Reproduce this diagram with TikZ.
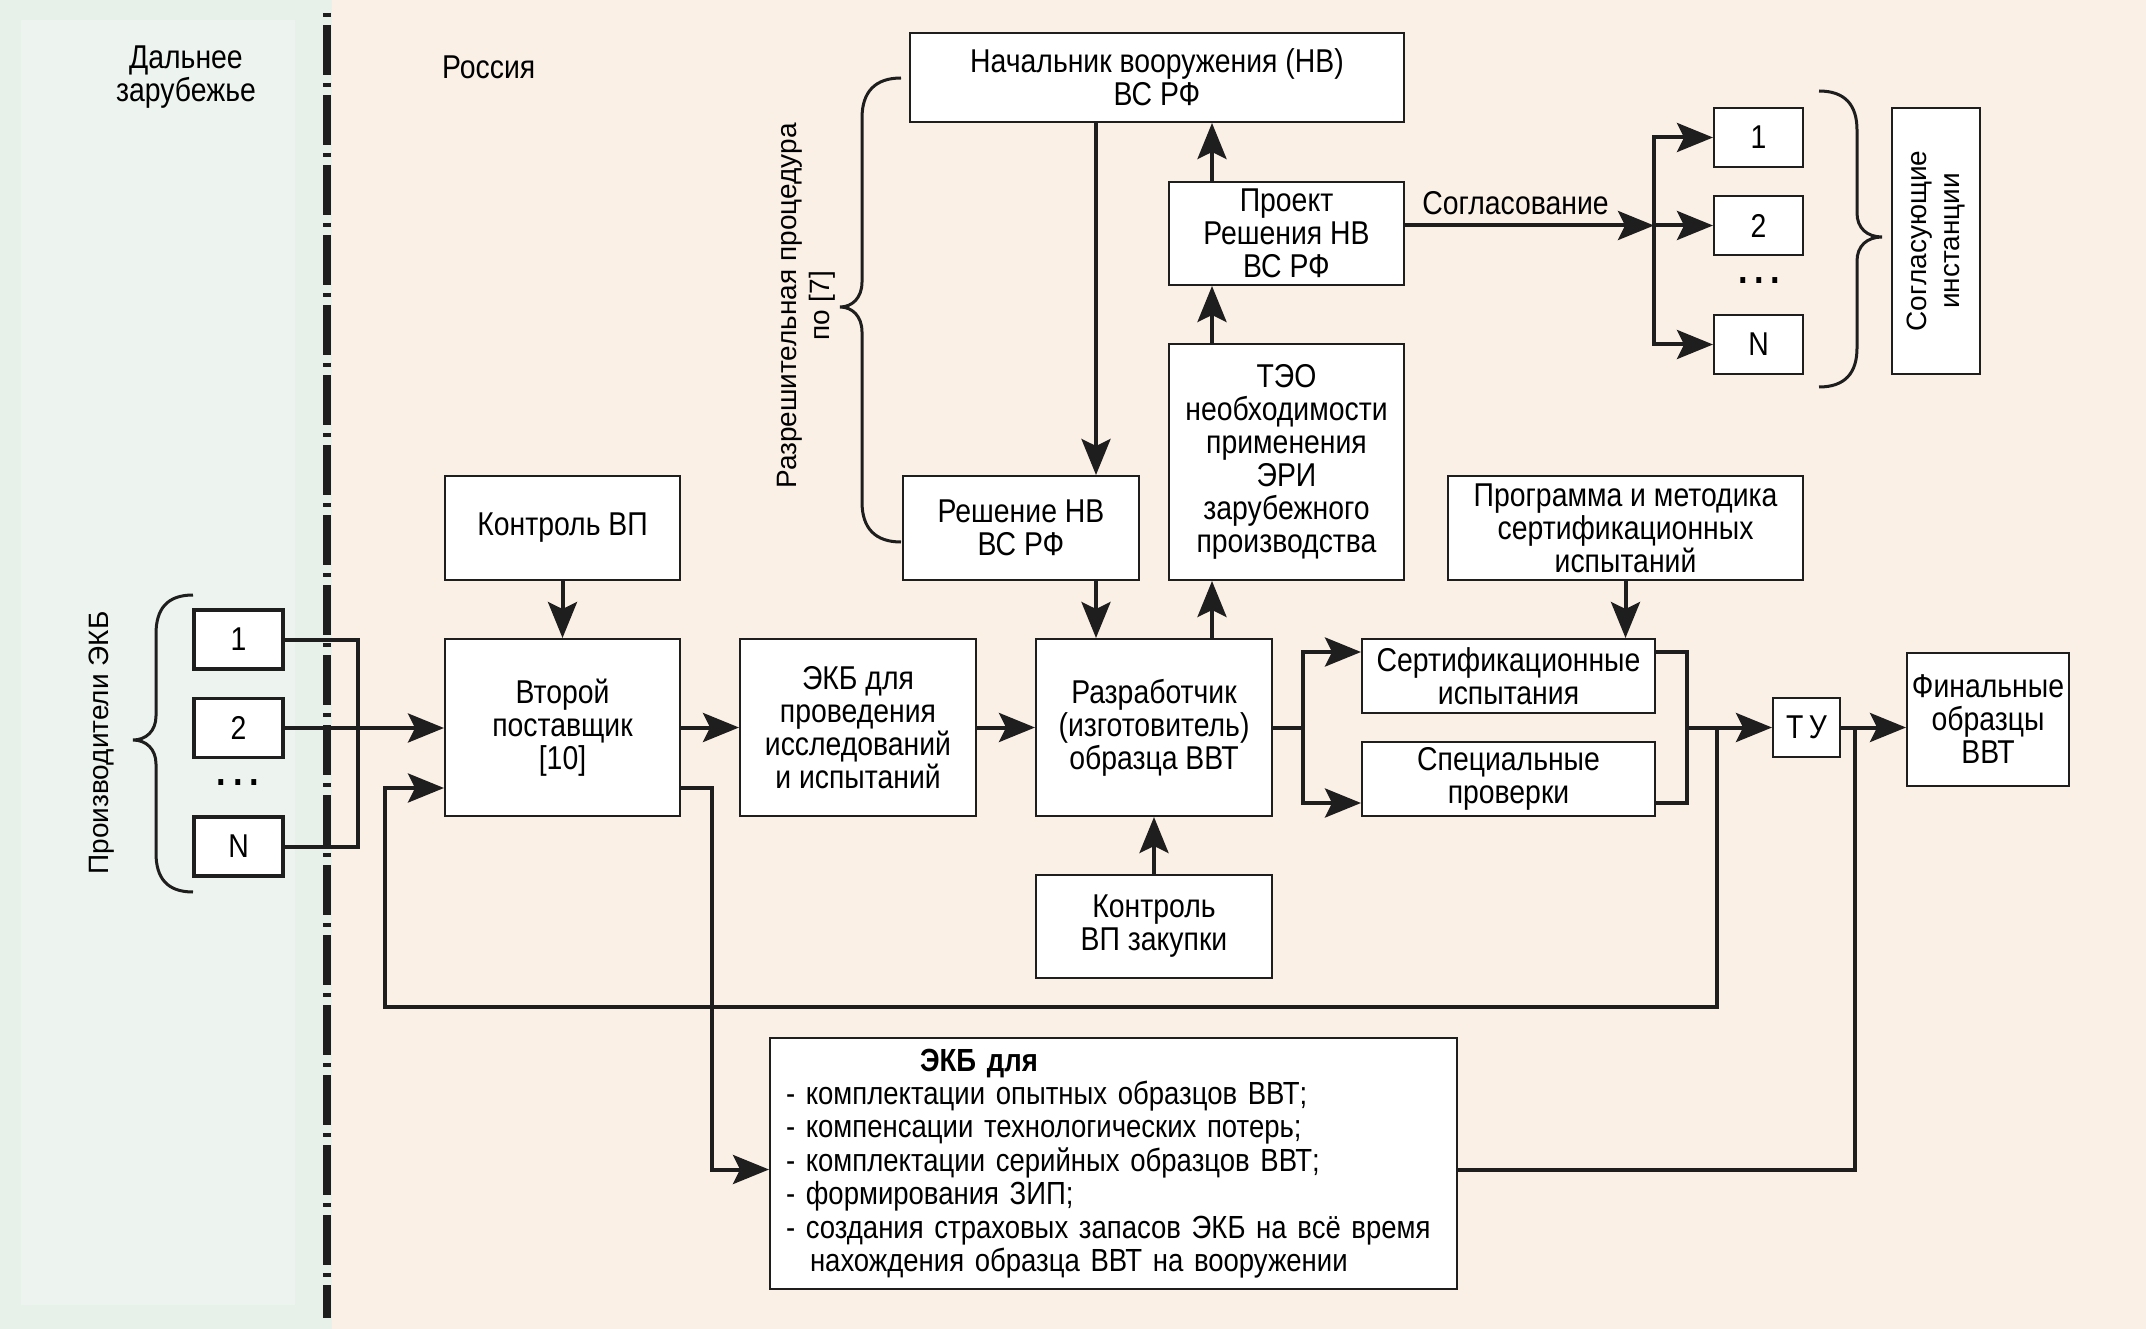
\documentclass[tikz,border=0pt]{standalone}
\usepackage{fontspec}
\setmainfont{Liberation Sans}[FakeStretch=0.86]
\newfontfamily\widefont{Liberation Sans}
\usetikzlibrary{arrows.meta,calc}
\definecolor{farbg}{HTML}{E8F0EA}
\definecolor{farin}{HTML}{EDF3EE}
\definecolor{rusbg}{HTML}{FAF0E6}
\definecolor{ink}{HTML}{1E1E1E}
\tikzset{
  blk/.style={draw=ink,line width=2pt,fill=white,align=center,inner sep=0pt,
    font=\fontsize{33}{33}\selectfont},
  num/.style={blk,line width=3.5pt,minimum width=89pt,minimum height=59pt},
  arr/.style={draw=ink,line width=4pt,-{Stealth[length=36pt,width=29pt,inset=7pt]}},
  ln/.style={draw=ink,line width=4pt},
  brc/.style={draw=ink,line width=3pt},
  side/.style={font=\widefont\fontsize{28}{33}\selectfont,align=center,inner sep=0pt},
  lbl/.style={font=\fontsize{33}{33}\selectfont,align=center,inner sep=0pt},
  dots/.style={font=\bfseries\fontsize{40}{40}\selectfont,inner sep=0pt}
}
\begin{document}
\begin{tikzpicture}[x=1pt,y=-1pt]
 \useasboundingbox (0,0) rectangle (2146,1329);
 % background: far abroad / Russia
 \fill[farbg] (0,0) rectangle (332,1329);
 \fill[farin] (21,20) rectangle (295,1305);
 \fill[rusbg] (332,0) rectangle (2146,1329);
 \draw[ink,line width=8pt,dash pattern=on 4pt off 8pt on 50pt off 8pt] (327,13) -- (327,1318);

 \node[lbl] (far) at (186,77) {Дальнее\\зарубежье};
 \node[lbl,anchor=west] (rus) at (442,67) {Россия};

 % braces
 \draw[brc] (901,78) .. controls (875,78) and (862,92) .. (862,118) -- (862,282)
   .. controls (862,298) and (852,307) .. (840,307) .. controls (852,307) and (862,316) .. (862,332)
   -- (862,502) .. controls (862,528) and (875,542) .. (901,542);
 \draw[brc] (1819,91) .. controls (1845,91) and (1857,105) .. (1857,130) -- (1857,213)
   .. controls (1857,228) and (1867,237) .. (1882,237) .. controls (1867,237) and (1857,246) .. (1857,261)
   -- (1857,348) .. controls (1857,373) and (1845,387) .. (1819,387);
 \draw[brc] (193,595) .. controls (167,595) and (156,609) .. (156,634) -- (156,716)
   .. controls (156,731) and (146,740) .. (133,740) .. controls (146,740) and (156,749) .. (156,764)
   -- (156,853) .. controls (156,878) and (167,892) .. (193,892);

 \node[side,rotate=90] (perm) at (806,306) {Разрешительная процедура\\по [7]};
 \node[side,rotate=90] (mfr) at (102,743) {Производители ЭКБ};

 % boxes
 \node[blk,minimum width=494pt,minimum height=89pt] (nv) at (1157,77.5) {Начальник вооружения (НВ)\\ВС РФ};
 \node[blk,minimum width=235pt,minimum height=103pt] (proj) at (1286.5,233.5) {Проект\\Решения НВ\\ВС РФ};
 \node[blk,minimum width=235pt,minimum height=236pt] (teo) at (1286.5,462) {ТЭО\\необходимости\\применения\\ЭРИ\\зарубежного\\производства};
 \node[blk,minimum width=236pt,minimum height=104pt] (resh) at (1021,528) {Решение НВ\\ВС РФ};
 \node[blk,minimum width=235pt,minimum height=104pt] (kvp) at (562.5,528) {Контроль ВП};
 \node[blk,minimum width=355pt,minimum height=104pt] (prog) at (1625.5,528) {Программа и методика\\сертификационных\\испытаний};
 \node[blk,minimum width=235pt,minimum height=177pt] (vtor) at (562.5,727.5) {Второй\\поставщик\\{[10]}};
 \node[blk,minimum width=236pt,minimum height=177pt] (ekbp) at (858,727.5) {ЭКБ для\\проведения\\исследований\\и испытаний};
 \node[blk,minimum width=236pt,minimum height=177pt] (razr) at (1154,727.5) {Разработчик\\(изготовитель)\\образца ВВТ};
 \node[blk,minimum width=236pt,minimum height=103pt] (zak) at (1154,926.5) {Контроль\\ВП закупки};
 \node[blk,minimum width=293pt,minimum height=74pt] (sert) at (1508.5,676) {Сертификационные\\испытания};
 \node[blk,minimum width=293pt,minimum height=74pt] (spec) at (1508.5,779) {Специальные\\проверки};
 \node[blk,minimum width=67pt,minimum height=59pt] (tu) at (1806.5,727.5) {Т\,У};
 \node[blk,minimum width=162pt,minimum height=133pt] (fin) at (1988,719.5) {Финальные\\образцы\\ВВТ};
 \node[blk,rotate=90,minimum width=266pt,minimum height=88pt,font=\widefont\fontsize{28}{33}\selectfont] (sogl) at (1936,241) {Согласующие\\инстанции};
 \node[blk,minimum width=687pt,minimum height=251pt,text width=655pt,align=left,inner xsep=16pt,
   font=\fontsize{32}{33.4}\selectfont] (ekb) at (1113.5,1163.5)
   {\hspace*{134pt}\textbf{ЭКБ для}\\
    - комплектации опытных образцов ВВТ;\\
    - компенсации технологических потерь;\\
    - комплектации серийных образцов ВВТ;\\
    - формирования ЗИП;\\
    - создания страховых запасов ЭКБ на всё время\\
    \hspace*{24pt}нахождения образца ВВТ на вооружении};

 \foreach \n/\y/\t in {s1/137.5/1,s2/225.5/2,sn/344.5/N}
   \node[blk,minimum width=89pt,minimum height=59pt] (\n) at (1758.5,\y) {\t};
 \foreach \n/\y/\t in {p1/639.5/1,p2/728/2,pn/846.5/N}
   \node[num] (\n) at (238.5,\y) {\t};
 \node[dots] (sdots) at (1759,281) {.\,.\,.};
 \node[dots] (pdots) at (238,783) {.\,.\,.};

 % approval chain
 \draw[arr] ([xshift=-44pt]resh.north east |- nv.south) -- ([xshift=-44pt]resh.north east);
 \draw[arr] ([xshift=-44pt]resh.south east) -- ([xshift=-44pt]resh.south east |- razr.north);
 \draw[arr] ([xshift=44pt]proj.north west) -- ([xshift=44pt]proj.north west |- nv.south);
 \draw[arr] ([xshift=44pt]teo.north west) -- ([xshift=44pt]teo.north west |- proj.south);
 \draw[arr] ([xshift=44pt]teo.south west |- razr.north) -- ([xshift=44pt]teo.south west);
 \draw[arr] (prog.south) -- (prog.south |- sert.north);
 \foreach \from/\to in {kvp/vtor,zak/razr,vtor/ekbp,ekbp/razr}
   \draw[arr] (\from) -- (\to);

 \coordinate (sbus) at ([xshift=-59pt]s2.west);
 \draw[arr] (proj.east |- s2.west) -- node[lbl,above=9pt,xshift=-14pt] (soglab) {Согласование} (sbus);
 \draw[arr] (sbus) |- (s1.west);
 \draw[arr] (sbus) |- (sn.west);
 \draw[arr] (sbus) -- (s2.west);

 % producers
 \draw[ln] (p1.east) -- ++(73pt,0) |- (pn.east);
 \draw[arr] (p2.east) -- (p2.east -| vtor.west);

 % tests
 \coordinate (fk) at ([xshift=30pt]razr.east);
 \draw[ln] (razr.east) -- (fk);
 \draw[arr] (fk) |- ([yshift=-14pt]sert.north west);
 \draw[arr] (fk) |- ([yshift=14pt]spec.south west);
 \coordinate (mg) at ([xshift=31pt]sert.east |- razr.east);
 \draw[ln] ([yshift=-14pt]sert.north east) -| (mg);
 \draw[ln] ([yshift=14pt]spec.south east) -| (mg);
 \draw[arr] (mg) -- (tu.west);
 \draw[arr] (tu.east) -- (tu.east -| fin.west);

 % feedback loops
 \coordinate (fbcorner) at (385,1007);
 \draw[arr] ([xshift=30pt]mg) |- (fbcorner) |- ([yshift=29pt]vtor.south west);
 \draw[arr] ([yshift=29pt]vtor.south east) -- ++(31pt,0) |- ([yshift=-6pt]ekb.west);
 \draw[ln] ([xshift=14pt]tu.east) |- ([yshift=-6pt]ekb.east);
\end{tikzpicture}
\end{document}
